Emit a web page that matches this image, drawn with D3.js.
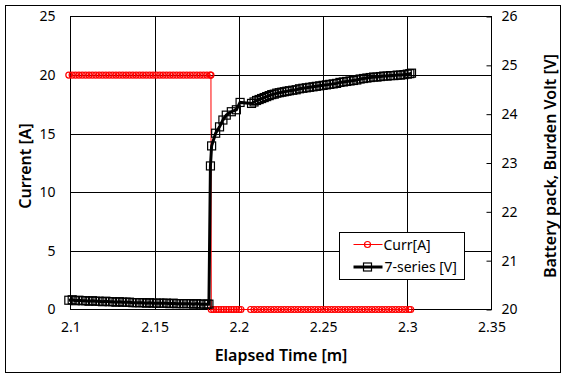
<!DOCTYPE html>
<html><head><meta charset="utf-8">
<script src="https://cdn.jsdelivr.net/npm/d3@7"></script>
<style>
body{margin:0;background:#fff}
text{font-family:"Noto Sans",sans-serif;fill:#000}
</style>
</head><body>
<svg id="c" width="568" height="379"></svg>
<script>
// ---- data ----
const xTickValues = [2.1, 2.15, 2.2, 2.25, 2.3, 2.35];
const xTickLabels = ["2.1", "2.15", "2.2", "2.25", "2.3", "2.35"];
const leftTickValues = [0, 5, 10, 15, 20, 25];
const rightTickValues = [20, 21, 22, 23, 24, 25, 26];

const timeCurr = [
  2.099,2.101,2.103,2.105,2.107,2.109,2.111,2.113,2.115,2.117,
  2.119,2.121,2.123,2.125,2.127,2.129,2.131,2.133,2.135,2.137,
  2.139,2.141,2.143,2.145,2.147,2.149,2.151,2.153,2.155,2.157,
  2.159,2.161,2.163,2.165,2.167,2.169,2.171,2.173,2.175,2.177,
  2.179,2.181,2.183,2.1834,
  2.1836,2.1850,2.1865,2.1880,2.1895,2.1910,2.1925,2.1940,2.1955,2.1970,
  2.1985,2.2000,2.2012,
  2.207,2.209,2.211,2.213,2.215,2.217,2.219,2.221,2.223,2.225,
  2.227,2.229,2.231,2.233,2.235,2.237,2.239,2.241,2.243,2.245,
  2.247,2.249,2.251,2.253,2.255,2.257,2.259,2.261,2.263,2.265,
  2.267,2.269,2.271,2.273,2.275,2.277,2.279,2.281,2.283,2.285,
  2.287,2.289,2.291,2.293,2.295,2.297,2.299,2.301,2.302
];
const current = [
  20,20,20,20,20,20,20,20,20,20,
  20,20,20,20,20,20,20,20,20,20,
  20,20,20,20,20,20,20,20,20,20,
  20,20,20,20,20,20,20,20,20,20,
  20,20,20,20,
  0,0,0,0,0,0,0,0,0,0,
  0,0,0,
  0,0,0,0,0,0,0,0,0,0,
  0,0,0,0,0,0,0,0,0,0,
  0,0,0,0,0,0,0,0,0,0,
  0,0,0,0,0,0,0,0,0,0,
  0,0,0,0,0,0,0,0,0
];

const timeVolt = [
  2.099,2.101,2.103,2.105,2.107,2.109,2.111,2.113,2.115,2.117,
  2.119,2.121,2.123,2.125,2.127,2.129,2.131,2.133,2.135,2.137,
  2.139,2.141,2.143,2.145,2.147,2.149,2.151,2.153,2.155,2.157,
  2.159,2.161,2.163,2.165,2.167,2.169,2.171,2.173,2.175,2.177,
  2.179,2.181,2.1822,
  2.1831,2.1838,2.1862,2.1885,2.1905,2.1925,2.1955,2.1985,2.2007,
  2.2075,2.2090,2.2105,2.2120,2.2135,2.2150,2.2165,2.2180,2.2195,2.2210,
  2.2225,2.2240,2.2255,2.2270,2.2285,2.2300,2.2320,2.2340,2.2360,2.2380,
  2.2400,2.2420,2.2440,2.2460,2.2480,2.2500,2.2520,2.2540,2.2560,2.2580,
  2.2600,2.2620,2.2640,2.2660,2.2680,2.2700,2.2720,2.2740,2.2760,2.2780,
  2.2800,2.2820,2.2840,2.2860,2.2880,2.2900,2.2920,2.2940,2.2960,2.2980,
  2.3000,2.3015,2.3025
];
const voltage = [
  20.19,20.20,20.18,20.19,20.18,20.18,20.17,20.18,20.17,20.17,
  20.16,20.17,20.16,20.16,20.15,20.16,20.15,20.15,20.15,20.14,
  20.14,20.14,20.14,20.13,20.14,20.13,20.13,20.13,20.13,20.13,
  20.12,20.13,20.12,20.12,20.12,20.12,20.12,20.11,20.12,20.11,
  20.11,20.11,20.11,
  22.94,23.35,23.61,23.74,23.88,23.98,24.05,24.09,24.24,
  24.22,24.25,24.28,24.30,24.32,24.34,24.36,24.38,24.40,24.41,
  24.43,24.44,24.45,24.46,24.47,24.48,24.49,24.50,24.52,24.53,
  24.54,24.55,24.56,24.57,24.58,24.59,24.60,24.61,24.62,24.63,
  24.65,24.66,24.67,24.68,24.69,24.70,24.72,24.73,24.74,24.75,
  24.76,24.76,24.77,24.78,24.78,24.79,24.79,24.80,24.80,24.81,
  24.82,24.83,24.84
];

const seriesNames = ["Curr[A]", "7-series [V]"];

// ---- chart ----
const svg = d3.select("#c");
const P = {l: 70.5, r: 491.5, t: 16.5, b: 309.5};

svg.append("rect").attr("x", 5.5).attr("y", 5.5).attr("width", 555).attr("height", 367)
  .attr("fill", "#fff").attr("stroke", "#000").attr("stroke-width", 1);

const x = d3.scaleLinear().domain([2.1, 2.35]).range([P.l, P.r]);
const yL = d3.scaleLinear().domain([0, 25]).range([P.b, P.t]);
const yR = d3.scaleLinear().domain([20, 26]).range([P.b, P.t]);

// grid
const grid = svg.append("g");
grid.selectAll("line.h").data(leftTickValues.slice(1, -1)).join("line")
  .attr("x1", P.l).attr("x2", P.r).attr("y1", d => Math.round(yL(d)) + 0.5).attr("y2", d => Math.round(yL(d)) + 0.5)
  .attr("stroke", "#000");
grid.selectAll("line.v").data(xTickValues.slice(1, -1)).join("line")
  .attr("y1", P.t).attr("y2", P.b).attr("x1", d => Math.round(x(d)) + 0.5).attr("x2", d => Math.round(x(d)) + 0.5)
  .attr("stroke", "#000");

// axes
const fs = 14;
const gL = svg.append("g").attr("transform", `translate(${P.l},0)`)
  .call(d3.axisLeft(yL).tickValues(leftTickValues).tickFormat(d3.format("d")).tickSize(0).tickPadding(15));
const gB = svg.append("g").attr("transform", `translate(0,${P.b})`)
  .call(d3.axisBottom(x).tickValues(xTickValues).tickFormat((d, i) => xTickLabels[i]).tickSize(0).tickPadding(13));
const gR = svg.append("g").attr("transform", `translate(${P.r},0)`)
  .call(d3.axisRight(yR).tickValues(rightTickValues).tickFormat(d3.format("d")).tickSizeInner(-5).tickSizeOuter(0).tickPadding(10));
[gL, gB, gR].forEach(g => {
  g.select(".domain").remove();
  g.selectAll("text").attr("font-size", fs).attr("font-family", '"Noto Sans", sans-serif').attr("fill", "#000");
  g.selectAll("line").attr("stroke", "#000");
});

// plot frame
svg.append("rect").attr("x", P.l).attr("y", P.t).attr("width", P.r - P.l).attr("height", P.b - P.t)
  .attr("fill", "none").attr("stroke", "#000");

const curData = timeCurr.map((t, i) => ({t, v: current[i]}));
const volData = timeVolt.map((t, i) => ({t, v: voltage[i]}));

// series: current
svg.append("path").datum(curData)
  .attr("d", d3.line().x(d => x(d.t)).y(d => yL(d.v)))
  .attr("fill", "none").attr("stroke", "#ff0000").attr("stroke-width", 1);
svg.append("g").selectAll("circle").data(curData).join("circle")
  .attr("cx", d => x(d.t)).attr("cy", d => yL(d.v)).attr("r", 3)
  .attr("fill", "none").attr("stroke", "#ff0000").attr("stroke-width", 1.2);

// series: voltage
svg.append("path").datum(volData)
  .attr("d", d3.line().x(d => x(d.t)).y(d => yR(d.v)))
  .attr("fill", "none").attr("stroke", "#000").attr("stroke-width", 3);
const sq = 8;
svg.append("g").selectAll("rect").data(volData).join("rect")
  .attr("x", d => x(d.t) - sq / 2).attr("y", d => yR(d.v) - sq / 2)
  .attr("width", sq).attr("height", sq)
  .attr("fill", "none").attr("stroke", "#000").attr("stroke-width", 1.2);

// axis titles
svg.append("text").attr("x", (P.l + P.r) / 2).attr("y", 361).attr("text-anchor", "middle")
  .attr("font-size", 16).attr("font-weight", 600).text("Elapsed Time [m]");
svg.append("text").attr("transform", `translate(31,${(P.t + P.b) / 2 + 3}) rotate(-90)`).attr("text-anchor", "middle")
  .attr("font-size", 16).attr("font-weight", 600).text("Current [A]");
svg.append("text").attr("transform", `translate(556,${(P.t + P.b) / 2 + 3}) rotate(-90)`).attr("text-anchor", "middle")
  .attr("font-size", 16).attr("font-weight", 600).text("Battery pack, Burden Volt [V]");

// legend
const lg = svg.append("g").attr("transform", "translate(339.5,232.5)");
lg.append("rect").attr("width", 125).attr("height", 47).attr("fill", "#fff").attr("stroke", "#000");
const row1 = 12, row2 = 34.5;
lg.append("line").attr("x1", 14).attr("x2", 43).attr("y1", row1).attr("y2", row1).attr("stroke", "#ff0000");
lg.append("circle").attr("cx", 28).attr("cy", row1).attr("r", 3).attr("fill", "none").attr("stroke", "#ff0000").attr("stroke-width", 1.2);
lg.append("text").attr("x", 44).attr("y", row1 + 5).attr("font-size", 14).text(seriesNames[0]);
lg.append("line").attr("x1", 14).attr("x2", 43).attr("y1", row2).attr("y2", row2).attr("stroke", "#000").attr("stroke-width", 3);
lg.append("rect").attr("x", 28 - sq / 2).attr("y", row2 - sq / 2).attr("width", sq).attr("height", sq)
  .attr("fill", "none").attr("stroke", "#000").attr("stroke-width", 1.2);
lg.append("text").attr("x", 45).attr("y", row2 + 5).attr("font-size", 14).text(seriesNames[1]);
</script>
</body></html>
